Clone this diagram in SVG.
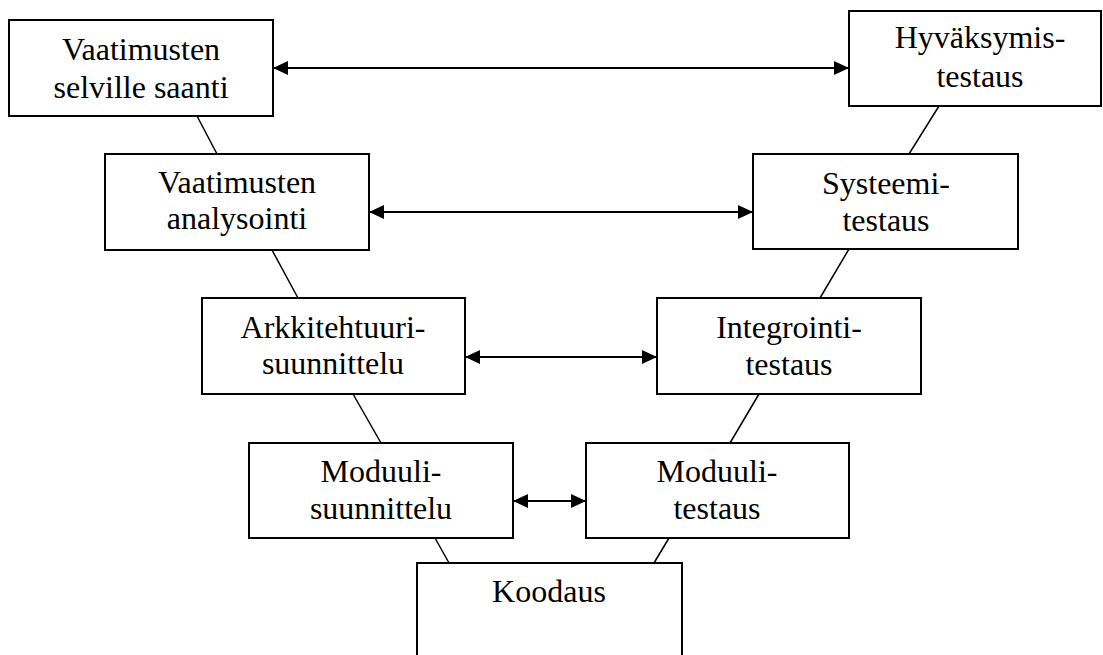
<svg xmlns="http://www.w3.org/2000/svg" width="1103" height="655" viewBox="0 0 1103 655">
<style>
.box{fill:#fff;stroke:#000;stroke-width:2}
.t{font-family:"Liberation Serif","Times New Roman",serif;font-size:32px;fill:#000;text-anchor:middle}
.ln{stroke:#000;stroke-width:1.5;fill:none}
.ar{stroke:#000;stroke-width:2;fill:none;marker-start:url(#ah);marker-end:url(#ah)}
</style>
<defs>
<marker id="ah" markerUnits="userSpaceOnUse" markerWidth="16" markerHeight="16" viewBox="0 0 16 16" refX="15" refY="8" orient="auto-start-reverse">
<path d="M0,1 L15,8 L0,15 Z" fill="#000"/>
</marker>
</defs>
<rect width="1103" height="655" fill="#fff"/>
<g id="connectors">
<line class="ln" x1="197" y1="116" x2="217" y2="154"/>
<line class="ln" x1="272" y1="250" x2="298" y2="298"/>
<line class="ln" x1="353" y1="394" x2="381" y2="443"/>
<line class="ln" x1="435" y1="538" x2="449" y2="563"/>
<line class="ln" x1="939" y1="106" x2="909" y2="154"/>
<line class="ln" x1="849" y1="249" x2="820" y2="298"/>
<line class="ln" x1="759" y1="394" x2="730" y2="443"/>
<line class="ln" x1="669" y1="538" x2="654" y2="563"/>
<line class="ar" x1="273" y1="68" x2="849" y2="68"/>
<line class="ar" x1="369" y1="212" x2="753" y2="212"/>
<line class="ar" x1="465" y1="357" x2="657" y2="357"/>
<line class="ar" x1="513" y1="501" x2="586" y2="501"/>
</g>
<g id="n1"><rect class="box" x="9" y="20" width="264" height="96"/><text class="t" x="141" y="60">Vaatimusten</text><text class="t" x="141" y="98">selville saanti</text></g>
<g id="n2"><rect class="box" x="849" y="11" width="252" height="95"/><text class="t" x="980" y="48">Hyväksymis-</text><text class="t" x="980" y="87">testaus</text></g>
<g id="n3"><rect class="box" x="105" y="154" width="264" height="96"/><text class="t" x="237" y="193">Vaatimusten</text><text class="t" x="237" y="229">analysointi</text></g>
<g id="n4"><rect class="box" x="753" y="154" width="265" height="95"/><text class="t" x="886" y="194">Systeemi-</text><text class="t" x="886" y="231">testaus</text></g>
<g id="n5"><rect class="box" x="202" y="298" width="263" height="96"/><text class="t" x="333" y="338">Arkkitehtuuri-</text><text class="t" x="333" y="374">suunnittelu</text></g>
<g id="n6"><rect class="box" x="657" y="298" width="264" height="96"/><text class="t" x="789" y="338">Integrointi-</text><text class="t" x="789" y="375">testaus</text></g>
<g id="n7"><rect class="box" x="249" y="443" width="264" height="95"/><text class="t" x="381" y="482">Moduuli-</text><text class="t" x="381" y="519">suunnittelu</text></g>
<g id="n8"><rect class="box" x="586" y="443" width="263" height="95"/><text class="t" x="717" y="482">Moduuli-</text><text class="t" x="717" y="519">testaus</text></g>
<g id="n9"><rect class="box" x="417" y="563" width="265" height="100"/><text class="t" x="549" y="602">Koodaus</text></g>
</svg>
